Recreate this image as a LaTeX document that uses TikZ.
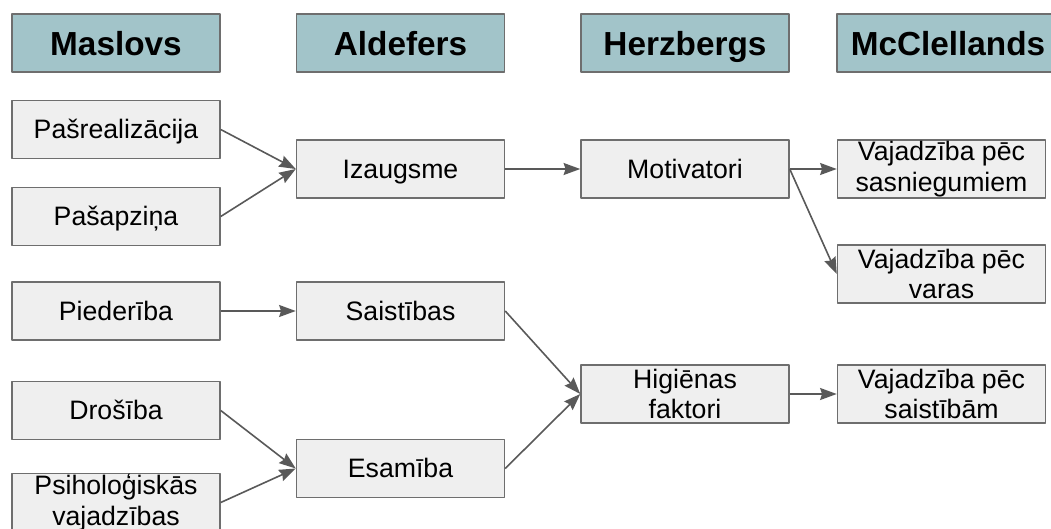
\documentclass[tikz,border=0pt]{standalone}
\usepackage{fontspec}
\setmainfont{Liberation Sans}
\usetikzlibrary{arrows.meta}

\begin{document}
\begin{tikzpicture}[x=0.75pt, y=-0.75pt, line join=round,
    galva/.style={draw=cMala, line width=1.1pt, fill=cGalva, minimum width=156pt,
      minimum height=43.5pt, inner sep=0pt, text height=20pt, text depth=2pt,
      font=\fontsize{25}{28}\selectfont\bfseries},
    kaste/.style={draw=cMala, line width=1.1pt, fill=cKaste, minimum width=156pt,
      minimum height=43.5pt, inner sep=0pt, align=center, font=\fontsize{20}{23}\selectfont},
    viens/.style={kaste, text height=15.5pt, text depth=2pt},
    bulta/.style={draw=cBulta, line width=1.2pt, -{Stealth[length=12.5pt, width=9pt, inset=1.5pt]}}]
  \definecolor{cGalva}{RGB}{162, 196, 201}
  \definecolor{cKaste}{RGB}{239, 239, 239}
  \definecolor{cMala}{RGB}{110, 110, 110}
  \definecolor{cBulta}{RGB}{89, 89, 89}

  \useasboundingbox (0,0) rectangle (1051,529);
  \clip (0,0) rectangle (1051,529);

  % virsraksti
  \node[galva] (maslovs) at (116,43) {Maslovs};
  \node[galva] (aldefers) at (400.5,43) {Aldefers};
  \node[galva] (herzbergs) at (685,43) {Herzbergs};
  \node[galva, minimum width=166.5pt] (mcclell) at (948,43) {McClellands};

  % Maslovs
  \node[viens] (pasreal) at (116,129.5) {Pašrealizācija};
  \node[viens] (pasapz) at (116,216.5) {Pašapziņa};
  \node[viens] (pieder) at (116,311) {Piederība};
  \node[viens] (drosiba) at (116,410.5) {Drošība};
  \node[kaste] (psihol) at (116,502.5) {Psiholoģiskās\\vajadzības};

  % Aldefers
  \node[viens] (izaugsme) at (400.5,169) {Izaugsme};
  \node[viens] (saistibas) at (400.5,311) {Saistības};
  \node[viens] (esamiba) at (400.5,468.5) {Esamība};

  % Herzbergs
  \node[viens] (motiv) at (685,169) {Motivatori};
  \node[kaste] (higien) at (685,394) {Higiēnas\\faktori};

  % McClellands
  \node[kaste] (sasnieg) at (941.5,169) {Vajadzība pēc\\sasniegumiem};
  \node[kaste] (varas) at (941.5,274) {Vajadzība pēc\\varas};
  \node[kaste] (saistibam) at (941.5,394) {Vajadzība pēc\\saistībām};

  \draw[bulta] (pasreal.east) -- (izaugsme.west);
  \draw[bulta] (pasapz.east) -- (izaugsme.west);
  \draw[bulta] (pieder.east) -- (saistibas.west);
  \draw[bulta] (drosiba.east) -- (esamiba.west);
  \draw[bulta] (psihol.east) -- (esamiba.west);

  \draw[bulta] (izaugsme.east) -- (motiv.west);
  \draw[bulta] (saistibas.east) -- (higien.west);
  \draw[bulta] (esamiba.east) -- (higien.west);

  \draw[bulta] (motiv.east) -- (sasnieg.west);
  \draw[bulta] (motiv.east) -- (varas.west);
  \draw[bulta] (higien.east) -- (saistibam.west);
\end{tikzpicture}
\end{document}
